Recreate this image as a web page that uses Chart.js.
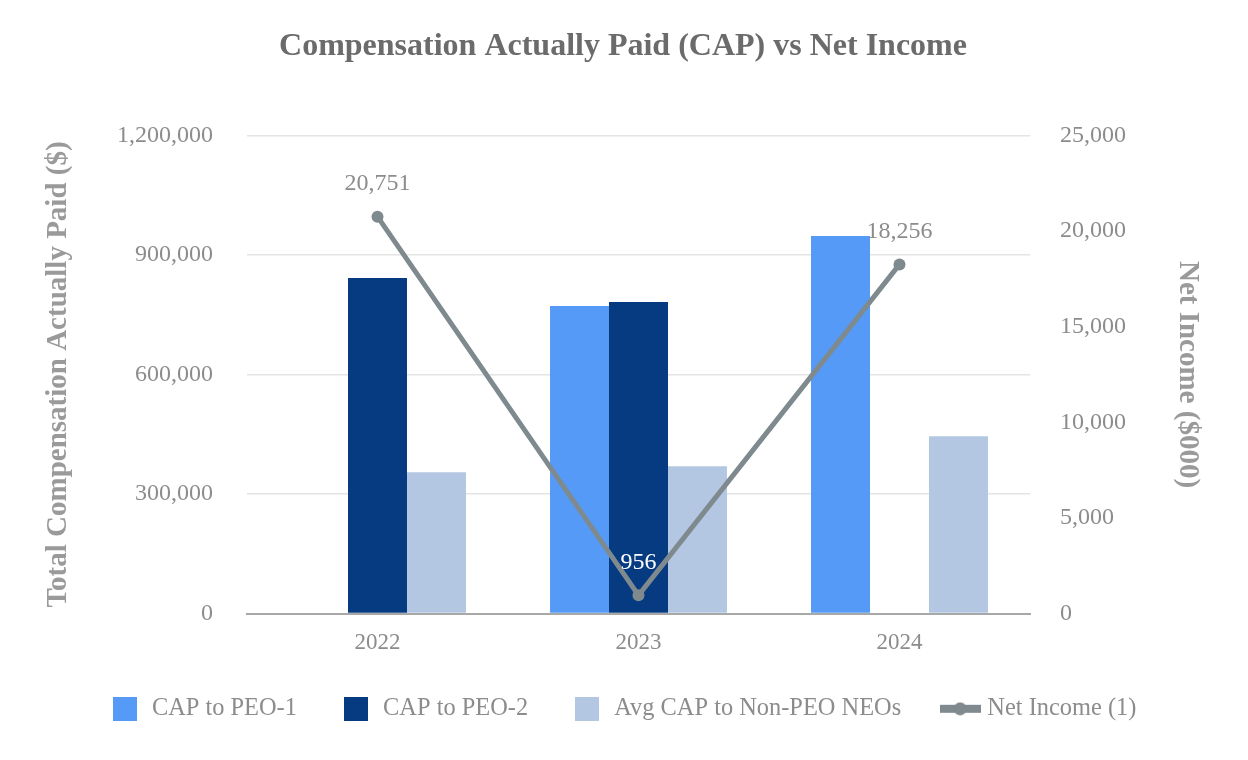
<!DOCTYPE html>
<html>
<head>
<meta charset="utf-8">
<script src="https://cdn.jsdelivr.net/npm/chart.js@4/dist/chart.umd.min.js"></script>
<style>
html,body{margin:0;padding:0;background:#ffffff;}
#wrap{width:1248px;height:760px;}
</style>
</head>
<body>
<div id="wrap"><canvas id="c" width="1248" height="760"></canvas></div>
<script>
// ---- data ----
const years = ['2022', '2023', '2024'];
const capPeo1 = [null, 771700, 947700];
const capPeo2 = [842000, 781800, null];
const avgNonPeo = [354500, 369500, 445000];
const netIncome = [20751, 956, 18256];
const seriesNames = ['CAP to PEO-1', 'CAP to PEO-2', 'Avg CAP to Non-PEO NEOs', 'Net Income (1)'];
const chartTitle = 'Compensation Actually Paid (CAP) vs Net Income';
const leftAxisTitle = 'Total Compensation Actually Paid ($)';
const rightAxisTitle = 'Net Income ($000)';

// ---- styles ----
const FONT = "'Liberation Serif', 'Times New Roman', serif";
const colors = ['#559AF6', '#063B82', '#B4C7E2', '#7F8A8F'];
const tickColor = '#8c8c8c';
const axisTitleColor = '#9a9a9a';

function boxIcon(color) {
  const c = document.createElement('canvas');
  c.width = 24; c.height = 24;
  const g = c.getContext('2d');
  g.fillStyle = color; g.fillRect(0, 0, 24, 24);
  return c;
}
function lineIcon(color) {
  const c = document.createElement('canvas');
  c.width = 41; c.height = 14;
  const g = c.getContext('2d');
  g.fillStyle = color;
  g.fillRect(0, 3, 41, 8);
  g.beginPath(); g.arc(20.5, 7, 6.5, 0, Math.PI * 2); g.fill();
  return c;
}
const icons = [boxIcon(colors[0]), boxIcon(colors[1]), boxIcon(colors[2]), lineIcon(colors[3])];

Chart.defaults.font.family = FONT;

const pointLabels = {
  id: 'pointLabels',
  afterDatasetsDraw(chart) {
    const meta = chart.getDatasetMeta(3);
    const ctx = chart.ctx;
    ctx.save();
    ctx.font = '24px ' + FONT;
    ctx.textAlign = 'center';
    ctx.textBaseline = 'middle';
    meta.data.forEach((pt, i) => {
      ctx.fillStyle = (i === 1) ? '#ffffff' : tickColor;
      ctx.fillText(netIncome[i].toLocaleString('en-US'), pt.x, pt.y - 33);
    });
    ctx.restore();
  }
};

new Chart(document.getElementById('c'), {
  type: 'bar',
  data: {
    labels: years,
    datasets: [
      { label: seriesNames[0], data: capPeo1, backgroundColor: colors[0], yAxisID: 'y', order: 1,
        categoryPercentage: 0.678, barPercentage: 1.0 },
      { label: seriesNames[1], data: capPeo2, backgroundColor: colors[1], yAxisID: 'y', order: 1,
        categoryPercentage: 0.678, barPercentage: 1.0 },
      { label: seriesNames[2], data: avgNonPeo, backgroundColor: colors[2], yAxisID: 'y', order: 1,
        categoryPercentage: 0.678, barPercentage: 1.0 },
      { label: seriesNames[3], data: netIncome, type: 'line', yAxisID: 'y1', order: 0,
        borderColor: colors[3], backgroundColor: colors[3], borderWidth: 5,
        pointRadius: 6, pointBackgroundColor: colors[3], pointBorderWidth: 0, tension: 0 }
    ]
  },
  options: {
    responsive: false,
    animation: false,
    devicePixelRatio: 1,
    layout: { padding: { left: 41, right: 43, top: 0, bottom: 29 } },
    plugins: {
      title: {
        display: true, text: chartTitle, color: '#6b6b6b',
        font: { size: 32, weight: 'bold', family: FONT },
        padding: { top: 28, bottom: 69 }
      },
      legend: {
        position: 'bottom',
        labels: {
          usePointStyle: true,
          pointStyleWidth: 30,
          padding: 44,
          color: tickColor,
          font: { size: 24.4, family: FONT },
          generateLabels(chart) {
            return chart.data.datasets.map((ds, i) => ({
              text: ds.label,
              pointStyle: icons[i],
              fillStyle: colors[i],
              strokeStyle: colors[i],
              lineWidth: 0,
              fontColor: tickColor,
              hidden: !chart.isDatasetVisible(i),
              datasetIndex: i
            }));
          }
        }
      },
      tooltip: { enabled: false }
    },
    scales: {
      x: {
        afterFit(s) { s.height = 39; },
        grid: { display: false, drawTicks: false },
        border: { display: true, color: '#a8a8a8', width: 2 },
        ticks: { color: tickColor, font: { size: 23, family: FONT }, padding: 16 }
      },
      y: {
        position: 'left',
        min: 0, max: 1200000,
        afterFit(s) { s.width = 206; },
        grid: { color: '#e4e4e4', lineWidth: 1.5, drawTicks: false },
        border: { display: false },
        ticks: {
          stepSize: 300000, color: tickColor, padding: 34,
          font: { size: 24, family: FONT },
          callback: v => Number(v).toLocaleString('en-US')
        },
        title: {
          display: true, text: leftAxisTitle, color: axisTitleColor,
          font: { size: 29, weight: 'bold', family: FONT },
          padding: { top: 0, bottom: 0 }
        }
      },
      y1: {
        position: 'right',
        min: 0, max: 25000,
        afterFit(s) { s.width = 175; },
        grid: { display: false, drawTicks: false },
        border: { display: false },
        ticks: {
          stepSize: 5000, color: tickColor, padding: 30,
          font: { size: 24, family: FONT },
          callback: v => Number(v).toLocaleString('en-US')
        },
        title: {
          display: true, text: rightAxisTitle, color: axisTitleColor,
          font: { size: 29, weight: 'bold', family: FONT },
          padding: { top: 0, bottom: 0 }
        }
      }
    }
  },
  plugins: [pointLabels]
});
</script>
</body>
</html>
